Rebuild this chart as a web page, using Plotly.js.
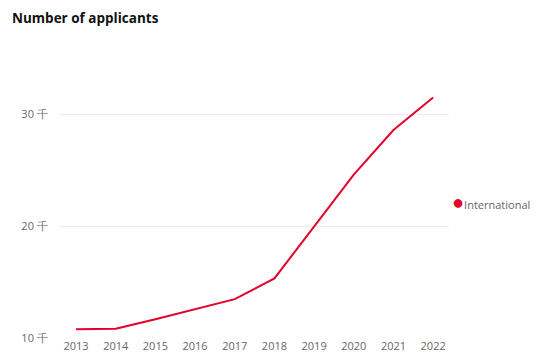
<!DOCTYPE html>
<html>
<head>
<meta charset="utf-8">
<script src="https://cdn.plot.ly/plotly-3.0.1.min.js"></script>
<style>html,body{margin:0;padding:0;background:#fff;}#chart{width:546px;height:355px;}</style>
</head>
<body>
<div id="chart"></div>
<script>
const years = [2013, 2014, 2015, 2016, 2017, 2018, 2019, 2020, 2021, 2022];
const applicants = [10.75, 10.8, 11.65, 12.55, 13.45, 15.3, 20.0, 24.6, 28.6, 31.5];
const seriesName = "International";
const yTickVals = [10, 20, 30];
const yTickText = ["10 千", "20 千", "30 千"];
const red = "#e3002b";

const trace = {
  x: years, y: applicants, type: "scatter", mode: "lines", name: seriesName,
  line: {color: red, width: 2}, showlegend: false, hoverinfo: "x+y"
};

const layout = {
  width: 546, height: 355,
  margin: {l: 59, r: 97, t: 92, b: 17},
  paper_bgcolor: "#fff", plot_bgcolor: "#fff",
  title: {text: "<b>Number of applicants</b>", x: 12/546, xanchor: "left", xref: "container", yref: "container", y: 1 - 18/355, yanchor: "middle",
          font: {family: "Open Sans, sans-serif", size: 13.5, color: "#111"}},
  xaxis: {range: [2012.57, 2022.4], tickvals: years, ticktext: years.map(String), showgrid: false, zeroline: false,
          showline: false, ticks: "", tickfont: {family: "Open Sans, sans-serif", size: 11, color: "#666"}, fixedrange: true},
  yaxis: {range: [9.97, 32], tickvals: yTickVals, ticktext: yTickText, showgrid: true, gridcolor: "#ececec", gridwidth: 1,
          zeroline: false, showline: false, ticks: "outside", ticklen: 8, tickcolor: "rgba(0,0,0,0)",
          tickfont: {family: "Open Sans, sans-serif", size: 11, color: "#666"}, fixedrange: true},
  showlegend: false,
  annotations: [{
    xref: "paper", yref: "paper", x: 1.003, y: (338-201)/246, xanchor: "left", yanchor: "middle",
    showarrow: false, align: "left",
    text: '<span style="color:' + red + ';font-size:20px">●</span>' + seriesName,
    font: {family: "Open Sans, sans-serif", size: 11, color: "#666"}
  }]
};

Plotly.newPlot("chart", [trace], layout, {displayModeBar: false, staticPlot: true});
</script>
</body>
</html>
